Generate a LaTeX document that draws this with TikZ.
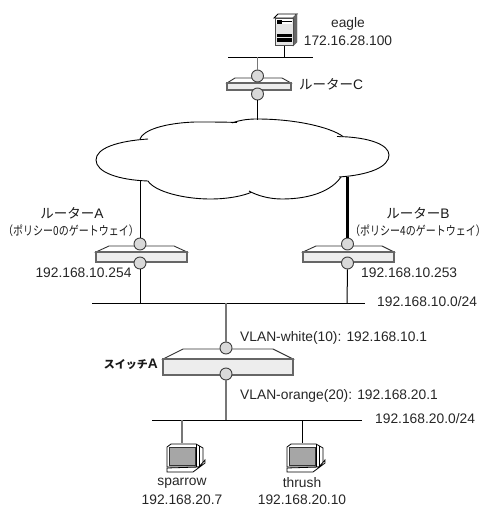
\documentclass[tikz,border=0pt]{standalone}
\usepackage{fontspec}
\setmainfont{Liberation Sans}
\newfontfamily\jp{Noto Sans CJK JP}
\newcommand{\narrowjp}[1]{\scalebox{0.8}[1]{\jp #1}}
\newcommand{\latin}{\fontsize{13.8}{15}\selectfont\rmfamily}
\definecolor{grayline}{HTML}{777777}
\tikzset{
  port/.style={circle,draw=black!75,fill=black!15,line width=0.9pt,minimum size=12pt,inner sep=0pt},
  bus/.style={draw=black,line width=1pt},
  link/.style={draw=black,line width=1pt},
  glink/.style={draw=grayline,line width=1.6pt},
  tlink/.style={draw=black,line width=3pt},
  lab/.style={font=\fontsize{13.8}{15}\selectfont,inner sep=0pt,text=black!85},
  llab/.style={lab,anchor=west},
  jlab/.style={font=\fontsize{13.5}{15}\selectfont\jp,inner sep=0pt,text=black!90},
  sublab/.style={font=\fontsize{12.5}{13}\selectfont,inner sep=0pt,text=black!90},
  top face/.style={draw=black!80,fill=white,line width=0.9pt},
  front face/.style={draw=black!60,fill=black!7,line width=1.6pt},
}
\newcommand{\routerbody}[7]{% x1 x2 xa xb ytop ymid ybot
  \path[top face] (#1,#6)--(#3,#5)--(#4,#5)--(#2,#6)--cycle;
  \path[front face] (#1,#6) rectangle (#2,#7);
}
\newcommand{\laptop}[1]{% centre x
  \begin{scope}[shift={(#1,0)}]
    \path[draw=black,fill=white,line width=0.8pt] (-11,444) -- (14,444) -- (21,448) -- (21,463) -- (17,467) -- (-15,467) -- (-15,447) -- cycle;
    \path[draw=black!80,fill=black!35,line width=0.8pt] (-12.5,447) rectangle (13,465);
    \draw[black,line width=0.8pt] (14,444) -- (14,467) (17,446) -- (17,466);
    \path[draw=black,fill=white,line width=0.8pt] (-15,468) -- (-15,472) -- (11,472) -- (23,463) -- (23,460) -- (17,467) -- cycle;
  \end{scope}
}
\begin{document}
\begin{tikzpicture}[x=1pt,y=-1pt]
\useasboundingbox (0,0) rectangle (503,522);
% server
\path[draw=black,fill=white,line width=0.9pt] (274,18) -- (278,14) -- (297,14) -- (293,18) -- cycle;
\path[draw=black!60,fill=black!60] (293,18) -- (297,14) -- (297,42) -- (293,46) -- cycle;
\path[draw=black!70,fill=black!10,line width=1pt] (275,18) rectangle (293,45);
\path[fill=white] (276,19) rectangle (292,24);
\path[fill=black] (277,20) rectangle (282,24);
\path[draw=black,line width=.6pt] (282,21) -- (292,21);
\path[fill=black] (276.5,34) rectangle (292,37);
\path[fill=black] (276.5,38) rectangle (292,42);
\coordinate (srv) at (284,46);
% coordinates on buses and cloud
\coordinate (busT) at (284,57);
\coordinate (busTl) at (228,57);
\coordinate (busTr) at (313,57);
\coordinate (busTc) at (257.5,57);
\coordinate (cloudT) at (257.5,119.5);
\coordinate (cloudA) at (140,181);
\coordinate (cloudB) at (347.5,177);
\coordinate (bus1l) at (92,303);
\coordinate (bus1r) at (365,303);
\coordinate (bus1a) at (140,303);
\coordinate (bus1b) at (347,303);
\coordinate (bus1c) at (226,303);
\coordinate (bus2l) at (152,420);
\coordinate (bus2r) at (362,420);
\coordinate (bus2c) at (226,420);
\coordinate (bus2s) at (182,420);
\coordinate (bus2t) at (302,420);
\coordinate (lapS) at (182,443);
\coordinate (lapT) at (302,443);
% cloud
\path[draw=black,line width=.9pt,fill=white]
  (148,139) .. controls (118,141) and (96,148) .. (96,160)
  .. controls (96,172) and (118,180) .. (148,181);
\path[draw=black,line width=.9pt,fill=white]
  (148,181) .. controls (155,192) and (185,199) .. (210,199)
  .. controls (228,199) and (243,196) .. (252,192);
\path[draw=black,line width=.9pt,fill=white]
  (249,191) .. controls (258,196) and (270,199) .. (282,199)
  .. controls (312,199) and (332,190) .. (341,177);
\path[draw=black,line width=.9pt,fill=white]
  (339,177) .. controls (369,175) and (389,167) .. (389,155)
  .. controls (389,145) and (370,137) .. (337,136.5);
\path[draw=black,line width=.9pt,fill=white]
  (343,136.5) .. controls (330,127) and (295,119) .. (257,119)
  .. controls (248,119) and (240,120) .. (232,123);
\path[draw=black,line width=.9pt,fill=white]
  (237,122.5) .. controls (225,122) and (210,122) .. (195,122)
  .. controls (165,123) and (143,130) .. (140,139);
% buses
\draw[bus] (busTl) -- (busTr);
\draw[bus] (bus1l) -- (bus1r);
\draw[bus] (bus2l) -- (bus2r);
\draw[link] (srv) -- (busT);
% routers
\routerbody{227}{291}{235}{282}{78}{83}{90}
\routerbody{96}{187}{109}{174}{246}{252}{262}
\routerbody{303}{394}{316}{382}{246}{252}{262}
\routerbody{163}{293}{183}{273}{349}{359}{375}
\node[port] (cu) at (257.5,76) {};
\node[port] (cd) at (257.5,94) {};
\node[port] (au) at (140,244) {};
\node[port] (ad) at (140,263) {};
\node[port] (bu) at (347.5,244) {};
\node[port] (bd) at (347.5,263) {};
\node[port] (su) at (226,348) {};
\node[port] (sd) at (226,374) {};
% connectors
\draw[glink] (busTc) -- (cu.north);
\draw[link] (cd.south) -- (cloudT);
\draw[link] (cloudA) -- (au.north);
\draw[link] (ad.south) -- (bus1a);
\draw[tlink] (cloudB) -- (bu.north);
\draw[link] (bd.south) -- (bus1b);
\draw[glink] (bus1c) -- (su.north);
\draw[glink] (sd.south) -- (bus2c);
\draw[glink] (bus2s) -- (lapS);
\draw[link] (bus2t) -- (lapT);
% hosts
\laptop{182}
\laptop{302}
% labels
\node[lab] (t1) at (348,24) {eagle};
\node[lab] (t2) at (348,41) {172.16.28.100};
\node[jlab,anchor=west] (t3) at (299,84) {ルーター\latin C};
\node[jlab] (t4) at (72,213) {ルーター\latin A};
\node[sublab] (t5) at (71,231) {\narrowjp{（ポリシー0のゲートウェイ）}};
\node[lab] (t6) at (83.5,273) {192.168.10.254};
\node[jlab] (t7) at (418,213) {ルーター\latin B};
\node[sublab] (t8) at (418,231) {\narrowjp{（ポリシー4のゲートウェイ）}};
\node[llab] (t9) at (361,273) {192.168.10.253};
\node[llab] (t10) at (377,302) {192.168.10.0/24};
\node[llab] (t11) at (240,338) {VLAN-white(10): 192.168.10.1};
\node[jlab,anchor=east,font=\fontsize{11}{15}\selectfont\jp\bfseries] (t12) at (158,364) {スイッチ\latin\bfseries A};
\node[llab] (t13) at (240,396) {VLAN-orange(20): 192.168.20.1};
\node[llab] (t14) at (375,419) {192.168.20.0/24};
\node[lab] (t15) at (182,483) {sparrow};
\node[lab] (t16) at (182,500) {192.168.20.7};
\node[lab] (t17) at (302,483) {thrush};
\node[lab] (t18) at (302,500) {192.168.20.10};
\end{tikzpicture}
\end{document}
